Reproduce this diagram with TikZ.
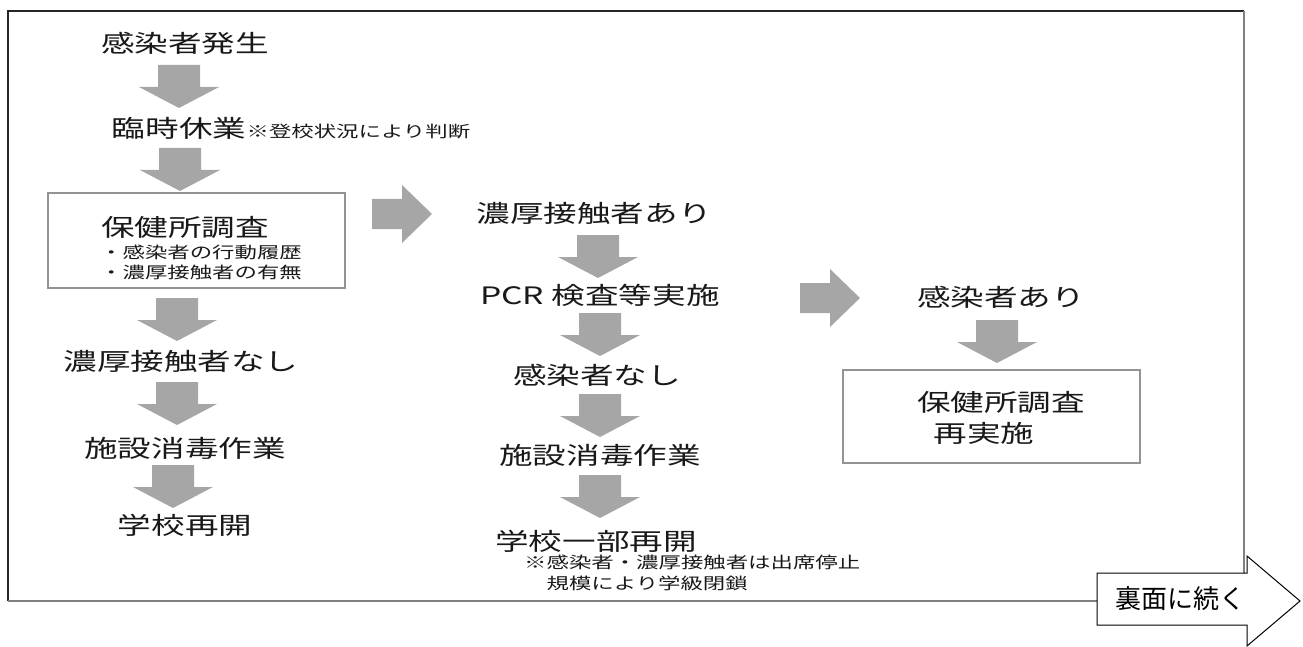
\documentclass[tikz,border=0pt]{standalone}
\usepackage{fontspec}
\setmainfont{Noto Sans CJK JP}[FakeStretch=1.4]
\newfontfamily\plainjp{Noto Sans CJK JP}
\usepackage{tikz}
\usetikzlibrary{positioning}
\tikzset{
  lbl/.style={inner sep=0pt, text=black!90, font=\fontsize{24}{26}\selectfont},
  note/.style={inner sep=0pt, text=black!90, align=left, font=\fontsize{16}{21}\selectfont},
  surveybox/.style={draw=gray!85, line width=1.6pt, inner sep=0pt},
  blockarrow/.style={fill=black!35, draw=none},
  contarrow/.style={draw=black, fill=white, line width=1pt}
}

\begin{document}
\begin{tikzpicture}[x=1pt, y=-1pt]
    \useasboundingbox (0,0) rectangle (1303,647);
    % outer frame
    \draw[black!85, line width=2pt] (8,601) -- (8,11) -- (1244,11);
    \draw[gray, line width=2pt] (1244,11) -- (1244,601) -- (8,601);

    % left column
    \node[lbl] (start) at (185,43) {感染者発生};
    \node[lbl] (rest) at (179,128) {臨時休業};
    \node[note, anchor=base west] (restnote) at (rest.base east) {※登校状況により判断};
    \node[surveybox, minimum width=297, minimum height=95] (survey) at (196.5,240.5) {};
    \node[lbl] (surveytitle) at (185,227) {保健所調査};
    \node[note, anchor=west, font=\fontsize{16}{20}\selectfont] (surveylist) at (100,262) {・感染者の行動履歴\\・濃厚接触者の有無};
    \node[lbl] (nocontact) at (181,361) {濃厚接触者なし};
    \node[lbl] (disinfleft) at (185,448) {施設消毒作業};
    \node[lbl] (reopen) at (185,525) {学校再開};

    % middle column
    \node[lbl] (contact) at (594,213) {濃厚接触者あり};
    \node[lbl] (pcr) at (600,295) {PCR 検査等実施};
    \node[lbl] (negative) at (597,375) {感染者なし};
    \node[lbl] (disinfmid) at (600,455) {施設消毒作業};
    \node[lbl] (partial) at (596,541) {学校一部再開};
    \node[note, anchor=north west] (partialnote) at (524,555) {※感染者・濃厚接触者は出席停止\\\hspace{1.4em}規模により学級閉鎖};

    % right column
    \node[lbl] (positive) at (1001,297) {感染者あり};
    \node[surveybox, minimum width=297, minimum height=93] (resurvey) at (991.5,416.5) {};
    \node[lbl] (resurveytitle) at (1001,402) {保健所調査};
    \node[lbl] (resurveyagain) at (984,433) {再実施};

    % downward block arrows
    \foreach \x/\y in {179/65, 180/148, 177/298, 177/382, 173/465, 598/235, 600/313, 600/394, 600/475, 997/320}
        \path[blockarrow] (\x-21,\y) -- (\x+21,\y) -- (\x+21,\y+22) -- (\x+40,\y+22) -- (\x,\y+43) -- (\x-40,\y+22) -- (\x-21,\y+22) -- cycle;
    % rightward block arrows
    \foreach \x/\y in {372/214, 800/298}
        \path[blockarrow] (\x,\y-15) -- (\x+30,\y-15) -- (\x+30,\y-29) -- (\x+60,\y) -- (\x+30,\y+29) -- (\x+30,\y+15) -- (\x,\y+15) -- cycle;

    % continued on the back
    \path[contarrow] (1097,573) -- (1247,573) -- (1247,556) -- (1300,601) -- (1247,646) -- (1247,625) -- (1097,625) -- cycle;
    \node[inner sep=0pt, font=\plainjp\fontsize{26}{28}\selectfont] (cont) at (1180,599) {裏面に続く};
\end{tikzpicture}
\end{document}
